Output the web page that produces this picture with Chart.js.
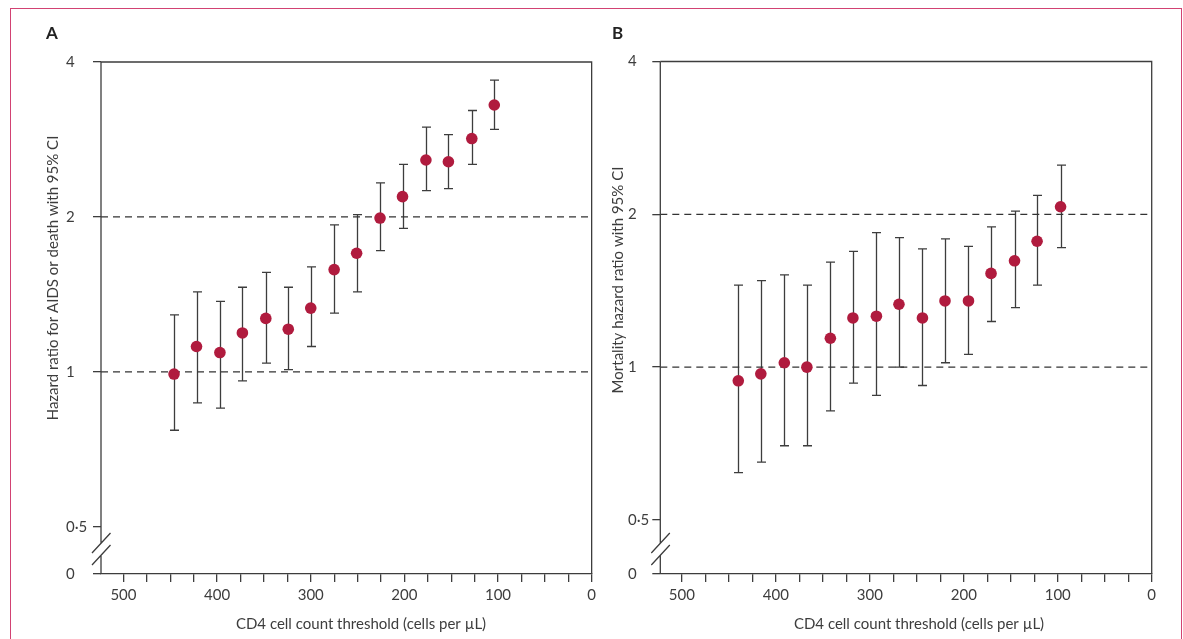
<!DOCTYPE html>
<html>
<head>
<meta charset="utf-8">
<script src="https://cdn.jsdelivr.net/npm/chart.js@4/dist/chart.umd.min.js"></script>
<style>
  html, body { margin: 0; padding: 0; background: #fff; }
  #wrap { position: relative; width: 1183px; height: 639px; overflow: hidden; }
  #frame { position: absolute; left: 10px; top: 8px; width: 1172px; height: 700px;
           border: 1.5px solid #d24273; box-sizing: border-box; }
  canvas { position: absolute; top: 0; }
  .tag { position: absolute; top: 24px; font: bold 17px Lato, sans-serif; line-height: 17px; color: #222; }
</style>
</head>
<body>
<div id="wrap">
  <div id="frame"></div>
  <canvas id="chartA" width="600" height="639" style="left:0"></canvas>
  <canvas id="chartB" width="583" height="639" style="left:600px"></canvas>
  <div class="tag" style="left:46px">A</div>
  <div class="tag" style="left:612px">B</div>
</div>
<script>
// panel A: hazard ratio for AIDS or death
const thresholdsA = [446, 422, 397, 373, 348, 324, 300, 275, 251, 226, 202, 177, 153, 128, 104];
const hrA    = [0.99, 1.12, 1.09, 1.19, 1.27, 1.21, 1.33, 1.58, 1.70, 1.99, 2.19, 2.58, 2.56, 2.84, 3.30];
const lowerA = [0.77, 0.87, 0.85, 0.96, 1.04, 1.01, 1.12, 1.30, 1.43, 1.72, 1.90, 2.25, 2.27, 2.53, 2.96];
const upperA = [1.29, 1.43, 1.37, 1.46, 1.56, 1.46, 1.60, 1.93, 2.02, 2.33, 2.53, 2.99, 2.89, 3.22, 3.69];

// panel B: mortality hazard ratio
const thresholdsB = [440, 416, 391, 367, 342, 318, 293, 269, 244, 220, 195, 171, 146, 122, 97];
const hrB    = [0.94, 0.97, 1.02, 1.00, 1.14, 1.25, 1.26, 1.33, 1.25, 1.35, 1.35, 1.53, 1.62, 1.77, 2.07];
const lowerB = [0.62, 0.65, 0.70, 0.70, 0.82, 0.93, 0.88, 1.00, 0.92, 1.02, 1.06, 1.23, 1.31, 1.45, 1.72];
const upperB = [1.45, 1.48, 1.52, 1.45, 1.61, 1.69, 1.84, 1.80, 1.71, 1.79, 1.73, 1.89, 2.03, 2.18, 2.50];

const yTickValues = [0.5, 1, 2, 4];
const refLevels = [1, 2];
const xTitle = 'CD4 cell count threshold (cells per µL)';

const INK = '#3d3d3d';
const FONT = 'Lato, sans-serif';

// draws CI whiskers with caps, under the points
const errorBars = {
  id: 'errorBars',
  beforeDatasetsDraw(chart, args, opts) {
    const { ctx, scales: { x, y } } = chart;
    ctx.save();
    ctx.strokeStyle = INK;
    ctx.lineWidth = 1.3;
    opts.xs.forEach((v, i) => {
      const px = Math.round(x.getPixelForValue(v)) + 0.5;
      const top = y.getPixelForValue(opts.upper[i]);
      const bot = y.getPixelForValue(opts.lower[i]);
      ctx.beginPath();
      ctx.moveTo(px, top); ctx.lineTo(px, bot);
      ctx.moveTo(px - 4.5, top); ctx.lineTo(px + 4.5, top);
      ctx.moveTo(px - 4.5, bot); ctx.lineTo(px + 4.5, bot);
      ctx.stroke();
    });
    ctx.restore();
  }
};

// box frame, broken y axis and axis titles
const frame = {
  id: 'frame',
  afterDraw(chart, args, opts) {
    const { ctx, chartArea: a } = chart;
    const l = a.left, r = a.right, t = a.top, b = a.bottom;
    ctx.save();
    ctx.strokeStyle = INK;
    ctx.lineWidth = 1.3;
    ctx.beginPath();
    ctx.moveTo(l, t); ctx.lineTo(r, t); ctx.lineTo(r, b);
    ctx.moveTo(l, t); ctx.lineTo(l, b - 31);
    ctx.moveTo(l, b - 19); ctx.lineTo(l, b);
    ctx.moveTo(l - 9, b - 21); ctx.lineTo(l + 9.5, b - 41);
    ctx.moveTo(l - 9, b - 9); ctx.lineTo(l + 9.5, b - 29);
    ctx.stroke();

    ctx.fillStyle = INK;
    ctx.font = '15px ' + FONT;
    ctx.textAlign = 'center';
    ctx.textBaseline = 'middle';
    ctx.fillText(xTitle, opts.xTitleX, opts.xTitleY);
    ctx.translate(opts.yTitleX, opts.yTitleY);
    ctx.rotate(-Math.PI / 2);
    ctx.fillText(opts.yTitle, 0, 0);
    ctx.restore();
  }
};

function makeChart(id, xs, hr, lower, upper, p) {
  const ctx = document.getElementById(id).getContext('2d');
  const xMax = p.xMax;
  const yMin = p.yMin;
  const refSets = refLevels.map(level => ({
    type: 'line',
    data: [{ x: xMax, y: level }, { x: 0, y: level }],
    borderColor: '#333',
    borderWidth: 1.2,
    borderDash: [7, 5],
    pointRadius: 0,
    order: 2,
  }));
  return new Chart(ctx, {
    type: 'scatter',
    data: {
      datasets: [{
        data: xs.map((x, i) => ({ x: x, y: hr[i] })),
        backgroundColor: '#b01b3e',
        borderWidth: 0,
        pointRadius: 5.8,
        order: 0,
      }].concat(refSets),
    },
    options: {
      responsive: false,
      animation: false,
      layout: { padding: p.padding },
      plugins: {
        legend: { display: false },
        tooltip: { enabled: false },
        errorBars: { xs: xs, lower: lower, upper: upper },
        frame: p.frame,
      },
      scales: {
        x: {
          type: 'linear',
          reverse: true,
          min: 0,
          max: xMax,
          afterFit(s) { s.height = 59; },
          afterBuildTicks(s) { s.ticks = s.ticks.filter(t => t.value <= 500); },
          ticks: {
            stepSize: 25,
            includeBounds: false,
            autoSkip: false,
            maxRotation: 0,
            padding: 4,
            color: INK,
            font: { family: FONT, size: 15 },
            callback: v => (v % 100 === 0 ? String(v) : ''),
          },
          grid: { drawOnChartArea: false, tickLength: 8, color: INK, lineWidth: 1.3 },
          border: { display: true, color: INK, width: 1.3 },
        },
        y: {
          type: 'logarithmic',
          min: yMin,
          max: 4,
          afterFit(s) { s.width = p.yWidth; },
          afterBuildTicks(s) { s.ticks = [yMin].concat(yTickValues).map(v => ({ value: v })); },
          ticks: {
            crossAlign: 'far',
            color: INK,
            font: { family: FONT, size: 15 },
            callback: v => (v === yMin ? '0' : String(v).replace('.', '·')),
          },
          grid: { drawOnChartArea: false, tickLength: 8, color: INK, lineWidth: 1.3 },
          border: { display: false },
        },
      },
    },
    plugins: [errorBars, frame],
  });
}

makeChart('chartA', thresholdsA, hrA, lowerA, upperA, {
  xMax: 524,
  yMin: 0.4047,
  yWidth: 35,
  padding: { left: 66, right: 5.3, top: 62, bottom: 6 },
  frame: { yTitle: 'Hazard ratio for AIDS or death with 95% CI', yTitleX: 53, yTitleY: 278, xTitleX: 361, xTitleY: 624 },
});

makeChart('chartB', thresholdsB, hrB, lowerB, upperB, {
  xMax: 523,
  yMin: 0.3913,
  yWidth: 32.3,
  padding: { left: 28, right: 31.3, top: 61.5, bottom: 6 },
  frame: { yTitle: 'Mortality hazard ratio with 95% CI', yTitleX: 18, yTitleY: 280, xTitleX: 319, xTitleY: 624 },
});
</script>
</body>
</html>
